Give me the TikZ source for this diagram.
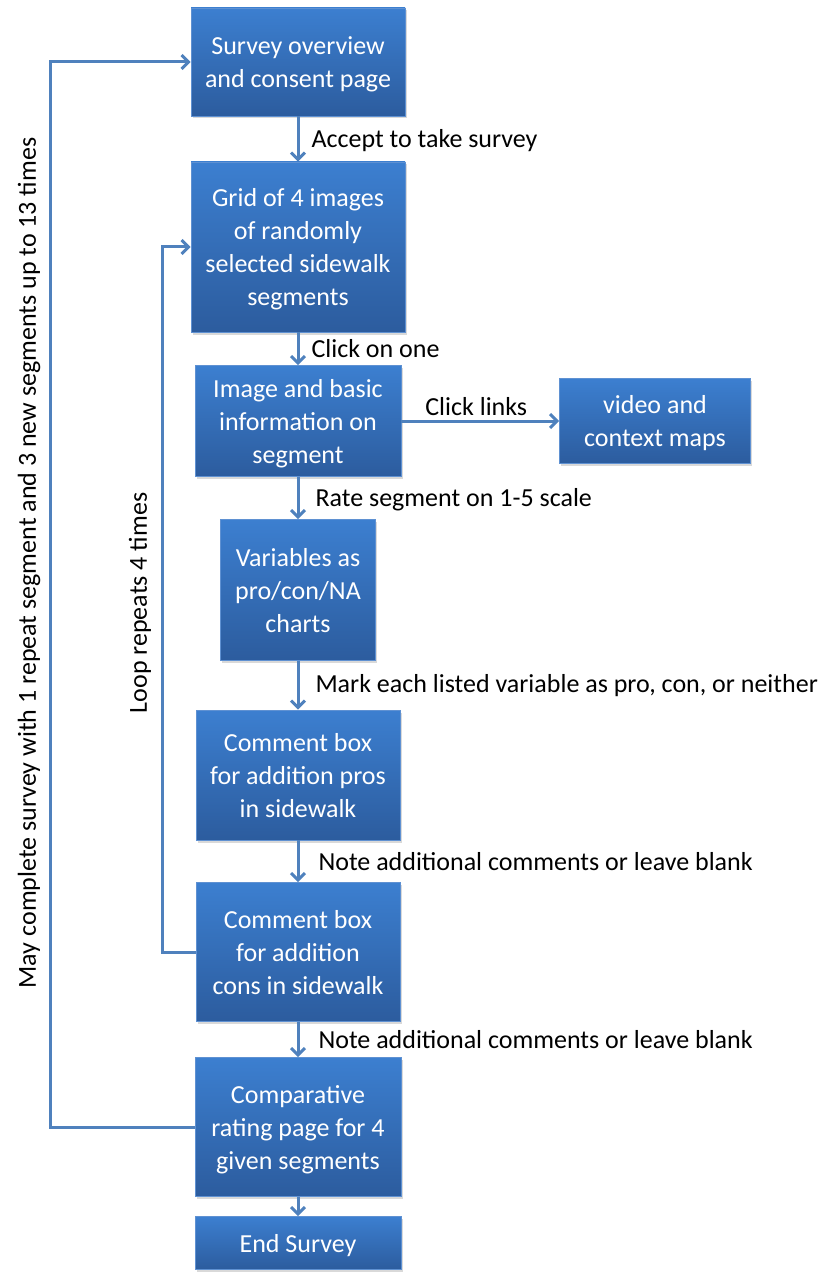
\documentclass[tikz,border=0pt]{standalone}
\usepackage{fontspec}
\setmainfont{Carlito}
\usetikzlibrary{arrows.meta,shadows}
\definecolor{boxtop}{RGB}{60,127,208}
\definecolor{boxbottom}{RGB}{44,92,158}
\definecolor{boxline}{RGB}{95,145,210}
\definecolor{flowline}{RGB}{79,129,189}
\begin{document}
\begin{tikzpicture}[x=1pt,y=1pt,
  stepbox/.style={rectangle,draw=boxline,line width=0.6pt,top color=boxtop,bottom color=boxbottom,
    text=white,align=center,font=\fontsize{26}{33}\selectfont,inner sep=0pt,text depth=0pt,
    drop shadow={shadow xshift=1.5pt,shadow yshift=-2.5pt,opacity=0.3}},
  flow/.style={draw=flowline,line width=3pt,-{Straight Barb[length=7pt,width=14pt]}},
  lbl/.style={font=\fontsize{26}{33}\selectfont,inner sep=2pt,text=black}]
\useasboundingbox (0,0) rectangle (833,-1273);
% boxes
\node[stepbox,minimum width=214pt,minimum height=108pt] (overview) at (298,-62)
    {Survey overview\\and consent page};
\node[stepbox,minimum width=214pt,minimum height=170pt] (grid) at (298,-247)
    {Grid of 4 images\\of randomly\\selected sidewalk\\segments};
\node[stepbox,minimum width=206pt,minimum height=111pt] (info) at (298,-421)
    {Image and basic\\information on\\segment};
\node[stepbox,minimum width=191pt,minimum height=85pt] (video) at (655,-421)
    {video and\\context maps};
\node[stepbox,minimum width=155pt,minimum height=141pt] (variables) at (298,-590)
    {Variables as\\pro/con/NA\\charts};
\node[stepbox,minimum width=204pt,minimum height=130pt] (pros) at (298,-775)
    {Comment box\\for addition pros\\in sidewalk};
\node[stepbox,minimum width=204pt,minimum height=139pt] (cons) at (298,-952)
    {Comment box\\for addition\\cons in sidewalk};
\node[stepbox,minimum width=206pt,minimum height=139pt] (compare) at (298,-1127)
    {Comparative\\rating page for 4\\given segments};
\node[stepbox,minimum width=206pt,minimum height=53pt] (endsurvey) at (298,-1243)
    {End Survey};
% arrows
\draw[flow] (overview) -- node[lbl,right,xshift=10pt,yshift=-2pt] (accept) {Accept to take survey} (grid);
\draw[flow] (grid) -- node[lbl,right,xshift=10pt] (clickone) {Click on one} (info);
\draw[flow] (info) -- node[lbl,above,xshift=-4pt,yshift=2pt] (clicklinks) {Click links} (video);
\draw[flow] (info) -- node[lbl,right,xshift=14pt,yshift=-2pt] (rate) {Rate segment on 1-5 scale} (variables);
\draw[flow] (variables) -- node[lbl,right,xshift=14pt] (mark) {Mark each listed variable as pro, con, or neither} (pros);
\draw[flow] (pros) -- node[lbl,right,xshift=17pt] (notepros) {Note additional comments or leave blank} (cons);
\draw[flow] (cons) -- node[lbl,right,xshift=17pt] (notecons) {Note additional comments or leave blank} (compare);
\draw[flow] (compare) -- (endsurvey);
% loops
\draw[flow] (cons.west) -- ++(-33,0) |- (grid.west);
\draw[flow] (compare.west) -- ++(-144,0) |- (overview.west);
\node[lbl,rotate=90] (loopfour) at (140,-603) {Loop repeats 4 times};
\node[lbl,rotate=90] (loopall) at (29,-563)
    {May complete survey with 1 repeat segment and 3 new segments up to 13 times};
\end{tikzpicture}
\end{document}
